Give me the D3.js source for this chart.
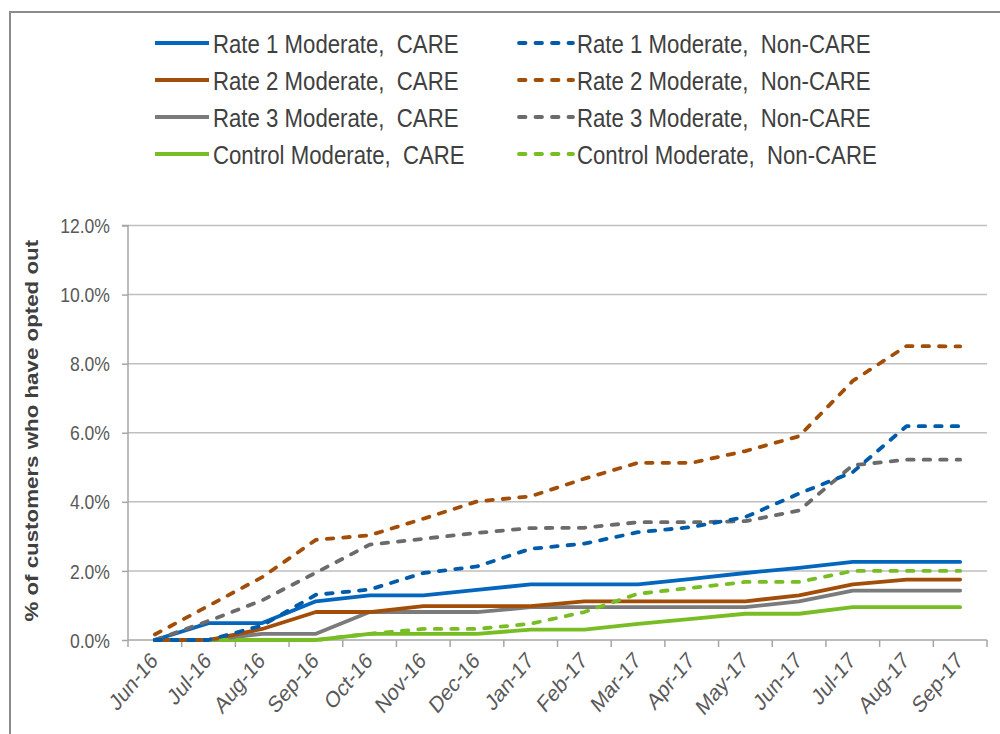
<!DOCTYPE html>
<html><head><meta charset="utf-8">
<script src="https://cdn.jsdelivr.net/npm/d3@7/dist/d3.min.js"></script>
<style>body{margin:0;background:#fff}svg{display:block}text{white-space:pre}</style>
</head><body><svg id="c" width="1000" height="734"></svg>
<script>
const months = ["Jun-16","Jul-16","Aug-16","Sep-16","Oct-16","Nov-16","Dec-16","Jan-17","Feb-17","Mar-17","Apr-17","May-17","Jun-17","Jul-17","Aug-17","Sep-17"];
const yTicks = [0,2,4,6,8,10,12];
const rate1Care    = [0,0.49,0.49,1.12,1.29,1.29,1.45,1.61,1.61,1.61,1.77,1.94,2.09,2.26,2.26,2.26];
const rate1NonCare = [0,0,0.42,1.31,1.46,1.94,2.13,2.64,2.79,3.12,3.27,3.56,4.24,4.86,6.19,6.19];
const rate2Care    = [0,0,0.32,0.81,0.81,0.98,0.98,0.98,1.12,1.12,1.12,1.12,1.29,1.61,1.75,1.75];
const rate2NonCare = [0.16,0.99,1.82,2.9,3.03,3.51,4.01,4.16,4.67,5.13,5.13,5.47,5.9,7.5,8.51,8.5];
const rate3Care    = [0,0,0.18,0.18,0.81,0.81,0.81,0.95,0.95,0.95,0.95,0.95,1.12,1.43,1.43,1.43];
const rate3NonCare = [0,0.55,1.15,1.95,2.76,2.93,3.1,3.24,3.25,3.41,3.41,3.44,3.75,5.06,5.22,5.22];
const ctrlCare     = [0,0,0,0,0.18,0.18,0.18,0.3,0.3,0.47,0.61,0.76,0.76,0.95,0.95,0.95];
const ctrlNonCare  = [0,0,0,0,0.18,0.32,0.32,0.47,0.81,1.34,1.51,1.68,1.68,2.0,2.0,2.0];
const seriesNames = ["Rate 1 Moderate,  CARE","Rate 1 Moderate,  Non-CARE","Rate 2 Moderate,  CARE","Rate 2 Moderate,  Non-CARE","Rate 3 Moderate,  CARE","Rate 3 Moderate,  Non-CARE","Control Moderate,  CARE","Control Moderate,  Non-CARE"];

const colors = ["#0566BE","#005BAA","#A24D08","#A24D08","#7B7B7B","#6B6B6B","#78BD24","#78BD24"];
const dashed = [false,true,false,true,false,true,false,true];
const allValues = [rate1Care,rate1NonCare,rate2Care,rate2NonCare,rate3Care,rate3NonCare,ctrlCare,ctrlNonCare];
const series = seriesNames.map((n,i)=>({name:n, values:allValues[i], color:colors[i], dash:dashed[i]}));

const svg = d3.select("#c");
const font = "'Liberation Sans', Arial, sans-serif";
const SY = 1.2; // vertical stretch of the text in the reference
const DASH = "6.5,10";
svg.append("path").attr("d","M10,734 L10,12 L1000,12").attr("fill","none").attr("stroke","#8c8c8c").attr("stroke-width",2);

const L=128, R=987, T=225.5, B=640;
const x = d3.scaleBand().domain(months).range([L,R]);
const y = d3.scaleLinear().domain([0,12]).range([B,T]);
const g = svg.append("g");

g.selectAll("line.grid").data(yTicks.filter(d=>d>0)).join("line")
  .attr("x1",L).attr("x2",R).attr("y1",d=>y(d)).attr("y2",d=>y(d))
  .attr("stroke","#bfbfbf").attr("stroke-width",1.5);

// y axis
const ya = g.append("g").attr("transform",`translate(${L},0)`)
  .call(d3.axisLeft(y).tickValues(yTicks).tickSize(6).tickFormat(""));
ya.select(".domain").attr("stroke","#a6a6a6").attr("stroke-width",1.5).attr("d",`M-6,${T}H0V${B}`);
ya.selectAll(".tick line").attr("stroke","#a6a6a6").attr("stroke-width",1.5);
g.selectAll("text.yl").data(yTicks).join("text").attr("class","yl")
  .attr("transform",d=>`translate(${L-18},${y(d)}) scale(1,${SY})`)
  .attr("text-anchor","end").attr("dy","0.36em")
  .attr("font-family",font).attr("font-size",17.6).attr("fill","#595959")
  .text(d=>d3.format(".1f")(d)+"%");

// x axis
const xa = g.append("g").attr("transform",`translate(0,${B})`)
  .call(d3.axisBottom(x).tickSize(0).tickFormat(""));
xa.select(".domain").attr("stroke","#a6a6a6").attr("stroke-width",1.5).attr("d",`M${L},0H${R}`);
const bounds = months.map(m=>x(m)).concat([R]);
xa.selectAll("line.tk").data(bounds).join("line").attr("class","tk")
  .attr("x1",d=>d).attr("x2",d=>d).attr("y1",0).attr("y2",7).attr("stroke","#a6a6a6").attr("stroke-width",1.5);
g.selectAll("text.xl").data(months).join("text").attr("class","xl")
  .attr("transform",d=>`translate(${x(d)+x.bandwidth()/2-1},${B+16}) scale(1,${SY}) rotate(-45)`)
  .attr("text-anchor","end").attr("dy","0.36em")
  .attr("font-family",font).attr("font-size",19.3).attr("fill","#595959").text(d=>d);

// y title
svg.append("text").attr("transform",`translate(31,${(T+B)/2-2}) scale(1,${SY}) rotate(-90)`)
  .attr("text-anchor","middle").attr("dy","0.36em").attr("font-family",font).attr("font-size",18.6)
  .attr("font-weight","bold").attr("fill","#404040").text("% of customers who have opted out");

// lines
const line = d3.line().x((d,i)=>x(months[i])+x.bandwidth()/2).y(d=>y(d));
const order = [6,4,2,0,7,5,1,3];
g.selectAll("path.s").data(order.map(i=>series[i])).join("path").attr("class","s")
  .attr("d",d=>line(d.values)).attr("fill","none").attr("stroke",d=>d.color)
  .attr("stroke-width",3.8).attr("stroke-linecap","round").attr("stroke-linejoin","round")
  .attr("stroke-dasharray",d=>d.dash?DASH:null);

// legend
const lg = svg.append("g");
series.forEach((s,i)=>{
  const col = i%2, row = Math.floor(i/2);
  const x0 = col===0?155:519, yy = 43 + row*37;
  lg.append("line").attr("x1",x0).attr("x2",x0+54).attr("y1",yy).attr("y2",yy)
    .attr("stroke",s.color).attr("stroke-width",3.8).attr("stroke-linecap",s.dash?"round":"butt")
    .attr("stroke-dasharray",s.dash?DASH:null);
  lg.append("text").attr("transform",`translate(${x0+58},${yy}) scale(1,${SY})`).attr("dy","0.36em")
    .attr("font-family",font).attr("font-size",22.2).attr("fill","#404040").text(s.name);
});
</script></body></html>
